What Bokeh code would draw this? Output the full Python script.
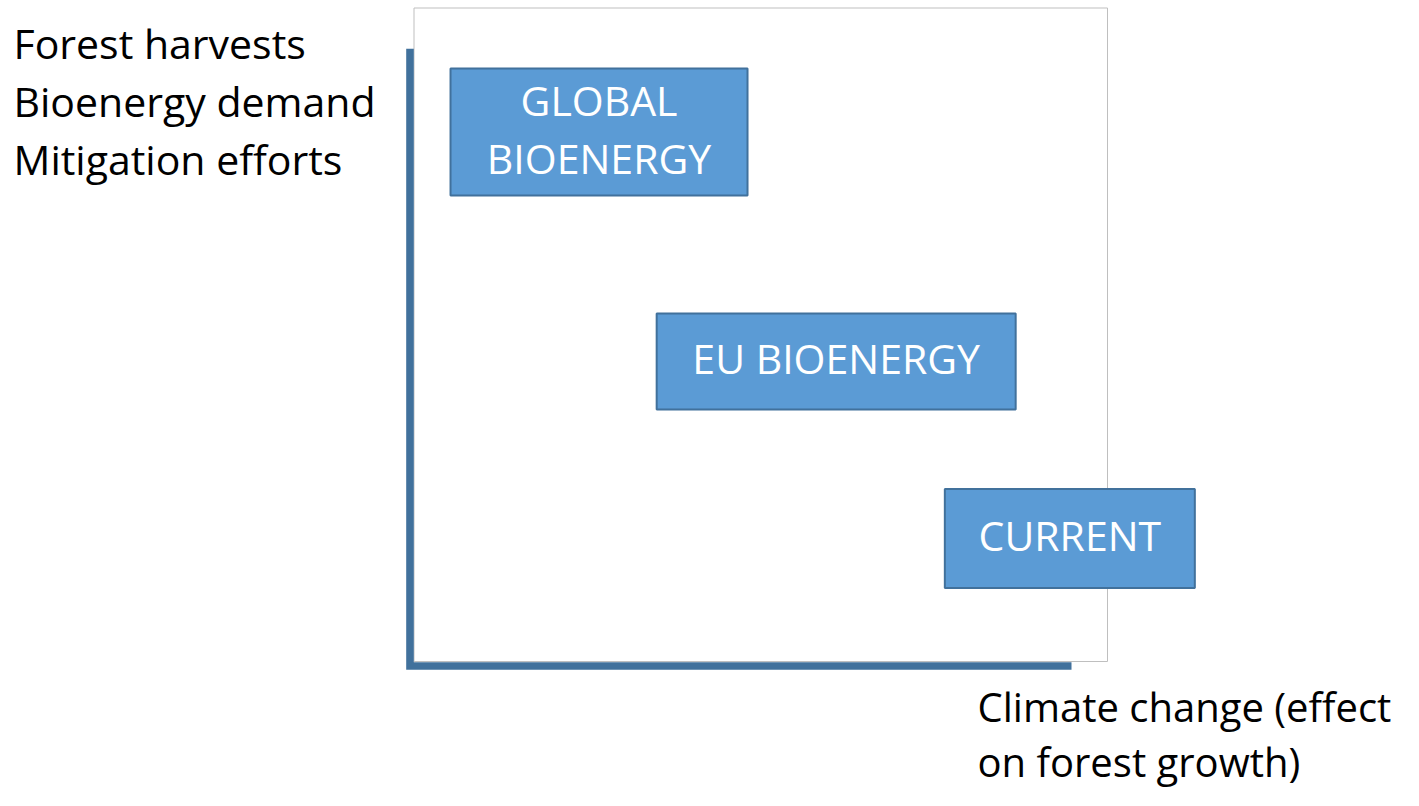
from bokeh.plotting import figure
from bokeh.models import Range1d, ColumnDataSource
from bokeh.core.properties import value
from bokeh.embed import file_html
from bokeh.resources import INLINE

# ---- data (conceptual units: 0..100 along each axis) ----
scenarios = ["GLOBAL BIOENERGY", "EU BIOENERGY", "CURRENT"]
label_lines = [["GLOBAL", "BIOENERGY"], ["EU BIOENERGY"], ["CURRENT"]]
climate_effect = [27.1, 61.1, 94.6]   # x: climate change effect on forest growth
harvest_level = [81.2, 46.3, 19.4]    # y: forest harvests / bioenergy demand / mitigation
y_axis_label = ["Forest harvests", "Bioenergy demand", "Mitigation efforts"]
x_axis_label = ["Climate change (effect", "on forest growth)"]

# ---- layout (screen pixels) ----
W, H = 1403, 790
OX, OY = 409.5, 665.5          # pixel position of the axes origin
SX, SY = 6.975, 6.575          # pixels per conceptual unit
BASE_FIX = 18                  # correction for the text baseline placement


def ux(px):
    return (px - OX) / SX


def uy(py):
    return (OY - py) / SY


box_w_px = [297, 359, 250]
box_h_px = [127, 96, 99]
FONT = "Open Sans"
BLUE_FILL = "#5B9BD5"
BLUE_LINE = "#41719C"

p = figure(width=W, height=H,
           x_range=Range1d(ux(0), ux(W)),
           y_range=Range1d(uy(H), uy(0)),
           x_axis_type=None, y_axis_type=None,
           output_backend="svg", toolbar_location=None,
           min_border=0, min_border_left=0, min_border_right=0,
           min_border_top=0, min_border_bottom=0)
p.outline_line_color = None
p.background_fill_color = "white"
p.border_fill_color = "white"

# frame square
p.quad(left=ux(413.5), right=ux(1107), bottom=uy(661), top=uy(7.5),
       fill_color=None, line_color="#BFBFBF", line_width=1)

# thick axes
p.line(x=[0, 0, ux(1071)], y=[uy(48.3), 0, 0], line_color=BLUE_LINE,
       line_width=7.6, line_join="miter", line_cap="butt")

# scenario boxes
src = ColumnDataSource(dict(
    x=climate_effect, y=harvest_level,
    w=[w / SX for w in box_w_px], h=[h / SY for h in box_h_px],
    name=scenarios))
p.rect(x="x", y="y", width="w", height="h", source=src,
       fill_color=BLUE_FILL, line_color=BLUE_LINE, line_width=2)

# box labels
tx, ty, tt = [], [], []
LINE_PX = 58
for cx, cy, lines in zip(climate_effect, harvest_level, label_lines):
    n = len(lines)
    for i, t in enumerate(lines):
        off = 14.5 + (i - (n - 1) / 2) * LINE_PX - BASE_FIX
        tx.append(cx)
        ty.append(cy - off / SY)
        tt.append(t)
p.text(x=tx, y=ty, text=tt, text_color="white", text_font=value(FONT),
       text_font_size="41px", text_align="center", text_baseline="alphabetic")

# y-axis caption (top-left)
p.text(x=[ux(13)] * 3,
       y=[uy(60 + i * 58.3 - BASE_FIX) for i in range(3)],
       text=y_axis_label, text_color="black", text_font=value(FONT),
       text_font_size="41px", text_align="left", text_baseline="alphabetic")

# x-axis caption (bottom-right)
p.text(x=[ux(977)] * 2,
       y=[uy(724 + i * 55 - BASE_FIX) for i in range(2)],
       text=x_axis_label, text_color="black", text_font=value(FONT),
       text_font_size="40px", text_align="left", text_baseline="alphabetic")

open("out.html", "w").write(file_html(p, INLINE))
